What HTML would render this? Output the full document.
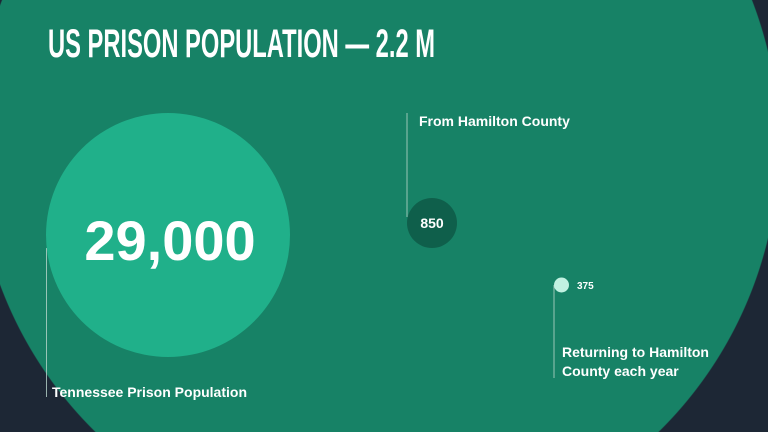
<!DOCTYPE html>
<html><head><meta charset="utf-8">
<style>
html,body{margin:0;padding:0;background:#1d2735;width:768px;height:432px;overflow:hidden;}
#wrap{width:768px;height:432px;overflow:hidden;background:radial-gradient(circle 402px at 377px 145px,#178266 401.5px,#1d2735 402.5px);}
svg{display:block;font-family:"Liberation Sans",sans-serif;overflow:hidden;}
</style></head>
<body>
<div id="wrap">
<svg width="768" height="432" viewBox="0 0 768 432">
  <text x="48" y="57" font-size="40" font-weight="bold" fill="#ffffff" textLength="387" lengthAdjust="spacingAndGlyphs">US PRISON POPULATION — 2.2 M</text>
  <g id="marks"></g>
</svg>
</div>
<script>
const categories = ["Tennessee Prison Population", "From Hamilton County", "Returning to Hamilton County each year"];
const values = [29000, 850, 375];
const valueLabels = ["29,000", "850", "375"];
const NS = "http://www.w3.org/2000/svg";
const g = document.getElementById("marks");
function mk(tag, attrs){const e=document.createElementNS(NS,tag);for(const k in attrs)e.setAttribute(k,attrs[k]);g.appendChild(e);return e;}
const layout = [
  {cx:168, cy:235, r:122, fill:"#20b08a", lx:46.5, ly1:248, ly2:397, tx:52, ty:[397], vx:170, vy:260, vfs:56, vanchor:"middle"},
  {cx:432, cy:223, r:25, fill:"#0f5f4b", lx:407, ly1:113, ly2:217, tx:419, ty:[126], vx:432, vy:228, vfs:14, vanchor:"middle"},
  {cx:561.5, cy:285, r:7.5, fill:"#c1f1e1", lx:554, ly1:285, ly2:378, tx:562, ty:[357,376], vx:577, vy:289, vfs:10, vanchor:"start"}
];
const lines2 = [["Tennessee Prison Population"],["From Hamilton County"],["Returning to Hamilton","County each year"]];
categories.forEach((c,i)=>{
  const L = layout[i];
  const ln = mk("line",{x1:L.lx,x2:L.lx,y1:L.ly1,y2:L.ly2,stroke:"#b9d6cc","stroke-width":1,"stroke-opacity":0.8});
  
  
  const b = mk("circle",{cx:L.cx,cy:L.cy,r:L.r,fill:L.fill});
  
  
  const v = mk("text",{x:L.vx,y:L.vy,"font-size":L.vfs,"font-weight":"bold",fill:"#ffffff","text-anchor":L.vanchor});
  v.textContent = valueLabels[i];
  
  
  lines2[i].forEach((t,j)=>{
    const tx = mk("text",{x:L.tx,y:L.ty[j],"font-size":14,"font-weight":"bold",fill:"#ffffff"});
    tx.textContent = t;
    
    
  });
});
</script>
</body></html>
